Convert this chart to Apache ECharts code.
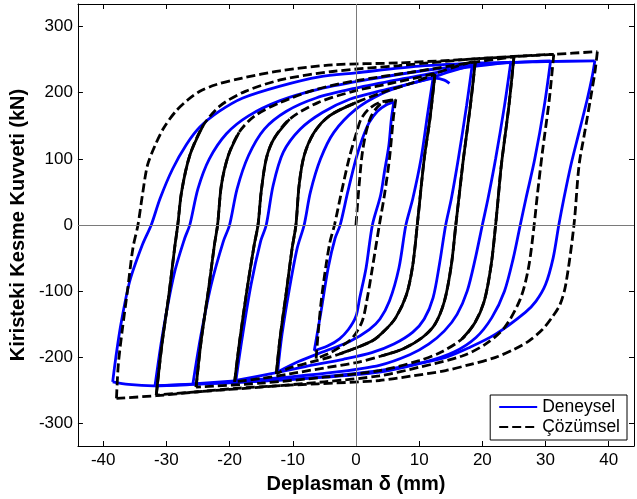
<!DOCTYPE html>
<html>
<head>
<meta charset="utf-8">
<script src="https://cdn.jsdelivr.net/npm/echarts@6/dist/echarts.min.js"></script>
<style>
  html, body { margin: 0; padding: 0; background: #fff; }
  #chart { width: 637px; height: 499px; }
</style>
</head>
<body>
<div id="chart"></div>
<script>
// axis ranges and tick labels
const xRange = [-44, 44];
const yRange = [-334, 334];
const xTickStep = 10;
const yTickStep = 100;

// Deneysel (experiment), one ascending and one descending branch per cycle amplitude
const blue6Up = [[-6.6,-190],[-5.6,-135],[-4.4,-65],[-3.3,-20],[-2.5,0],[-1.3,50],[0,100],[1.0,130],[2.1,155],[3.4,172],[4.7,181],[6.0,186]];
const blue6Down = [[6.0,186],[5.6,160],[5.2,120],[4.5,80],[3.9,45],[2.6,0],[1.6,-65],[0.6,-110],[0,-138],[-1.2,-158],[-2.6,-172],[-4.5,-183],[-6.6,-190]];
const blue12Up = [[-12.4,-222],[-11.7,-165],[-10.6,-100],[-9.3,-35],[-8.2,0],[-7.2,50],[-5.6,100],[-3.5,140],[0,175],[4,198],[8,212],[12.2,222]];
const blue12Down = [[12.2,222],[11.3,165],[10.3,100],[9.0,40],[7.9,0],[6.8,-65],[5.3,-115],[3.8,-142],[2.1,-158],[-1,-176],[-5.3,-192],[-9,-206],[-12.4,-222]];
const blueTail = [[10.5,222],[12.5,222],[14,219],[14.8,214]];
const blue19Up = [[-19.0,-235],[-18.0,-170],[-16.6,-90],[-15.1,-25],[-14.2,0],[-13.1,60],[-11.5,110],[-8.8,145],[-5.3,170],[-1,190],[4,203],[10,217],[15,232],[18.4,242]];
const blue19Down = [[18.4,242],[17.5,180],[16.2,100],[15.1,40],[14.2,0],[13.2,-60],[12.2,-110],[10.8,-142],[9,-162],[6,-180],[2.5,-193],[-2,-203],[-8,-214],[-13,-224],[-19.0,-235]];
const blue25Up = [[-25.8,-240],[-24.6,-170],[-22.9,-90],[-21.0,-25],[-20.0,0],[-18.8,55],[-17.0,105],[-14.5,145],[-11,172],[-6.3,192],[0,207],[8,222],[16,236],[24.5,246]];
const blue25Down = [[24.5,246],[23.5,180],[22.1,100],[20.9,40],[20.0,0],[18.9,-50],[17.6,-100],[16.0,-135],[14.0,-160],[11.5,-180],[8.5,-196],[3.7,-212],[-3,-222],[-10,-229],[-18,-235],[-25.8,-240]];
const blue31Up = [[-31.8,-243],[-30.6,-165],[-28.8,-75],[-27.1,-20],[-26.3,0],[-25.0,55],[-23.2,100],[-20.5,138],[-17,165],[-12,188],[-6,205],[2,220],[12,235],[22,244],[30.8,248]];
const blue31Down = [[30.8,248],[29.8,180],[28.3,100],[26.9,40],[26.0,0],[24.9,-50],[23.5,-100],[21.5,-140],[19,-170],[15.5,-192],[11,-207],[4,-222],[-5,-230],[-15,-236],[-25,-240],[-31.8,-243]];
const blue38Up = [[-38.5,-237],[-38.0,-200],[-37.2,-150],[-35.8,-85],[-33.8,-30],[-32.4,0],[-31,40],[-29,85],[-26.8,122],[-24.7,148],[-21.6,172],[-17.9,192],[-12,210],[-5.8,224],[0,230],[10,240],[20,245],[30,247],[37.8,248]];
const blue38Down = [[37.8,248],[37.4,225],[36.6,190],[35.3,140],[34.0,90],[32.9,40],[32.1,0],[31.2,-50],[30.0,-90],[28.5,-115],[26.8,-132],[22.1,-165],[18,-185],[14.2,-200],[8,-213],[3.7,-220],[-5,-229],[-15,-236],[-25.8,-241],[-32,-243],[-36,-241],[-38.5,-237]];

// Çözümsel (numerical)
const black38Up = [[-37.9,-262],[-37.6,-210],[-37.0,-160],[-36.1,-95],[-35.3,-35],[-34.5,0],[-33.8,45],[-33.0,90],[-31.8,120],[-30.4,147],[-28.5,172],[-26.5,190],[-24.7,202],[-22.2,212],[-18,222],[-12,233],[-3.7,242],[6.8,245],[15,249],[25.8,255],[31.3,258],[38.2,262]];
const black38Down = [[38.2,262],[37.8,230],[37.1,190],[36.2,140],[35.3,90],[34.5,0],[33.2,-90],[32.3,-120],[31,-140],[29.5,-158],[27.4,-175],[25,-188],[22.1,-200],[18,-211],[14.2,-220],[9,-228],[3.7,-235],[-6,-240],[-12.6,-243],[-19,-247],[-25,-252],[-31.6,-258],[-37.9,-262]];
const black0 = [[0,0],[0.5,60],[1.1,115],[2.2,160],[3.8,182],[6.3,190]];
const black6Up = [[-6.3,-202],[-6.0,-165],[-5.5,-115],[-4.8,-65],[-4.1,-25],[-3.4,0],[-2.4,45],[-1.1,100],[0.1,140],[0.8,160],[2.0,175],[3.7,185],[6.3,190]];
const black6Down = [[6.3,190],[5.9,160],[5.3,100],[4.5,45],[3.7,0],[2.6,-65],[1.8,-110],[1.0,-145],[-0.5,-170],[-2.6,-185],[-4.5,-195],[-6.3,-202]];
const black12Up = [[-12.6,-225],[-12.0,-170],[-11.0,-100],[-10.1,-35],[-9.5,0],[-9.0,60],[-8.2,105],[-6.6,140],[-4.2,165],[0,185],[4.7,202],[9,215],[12.5,228]];
const black12Down = [[12.5,228],[11.7,160],[10.8,100],[9.7,0],[9.0,-60],[8.0,-105],[6.3,-140],[4.5,-160],[2.6,-175],[-2.6,-195],[-7,-207],[-10.5,-216],[-12.6,-225]];
const black19Up = [[-19.2,-237],[-18.4,-175],[-17.2,-95],[-16.1,-30],[-15.5,0],[-15.0,50],[-14.2,100],[-13,130],[-10.5,160],[-6,185],[0,203],[6,215],[12,228],[16,240],[18.9,248]];
const black19Down = [[18.9,248],[18.1,180],[17.0,100],[16.4,50],[15.8,0],[15.1,-60],[14.0,-115],[12.5,-150],[10.5,-170],[7.5,-187],[4,-198],[0,-208],[-5,-216],[-10.5,-225],[-15,-232],[-19.2,-237]];
const black25Up = [[-25.3,-245],[-24.5,-175],[-23.3,-95],[-22.4,-30],[-21.9,0],[-21.3,60],[-20.2,105],[-18.5,140],[-16,165],[-12,185],[-6.3,205],[0,218],[9.5,232],[18,245],[25,254]];
const black25Down = [[25,254],[24.2,180],[23.0,90],[22.5,40],[22.1,0],[21.4,-60],[20.3,-115],[18.8,-148],[16.8,-172],[13.5,-192],[10,-205],[3.7,-220],[-5,-230],[-15,-239],[-25.3,-245]];
const black31Up = [[-31.6,-257],[-30.7,-180],[-29.6,-105],[-28.7,-35],[-28.2,0],[-27.6,50],[-26.3,105],[-24.2,150],[-21.5,180],[-17.5,202],[-11.6,220],[-3.7,232],[6.8,241],[20,252],[31.3,258]];
const black31Down = [[31.3,258],[30.6,190],[29.5,110],[28.7,45],[28.2,0],[27.3,-65],[26,-112],[23.5,-155],[20.5,-180],[16.8,-198],[10,-215],[3.7,-228],[-5,-237],[-15,-245],[-25,-252],[-31.6,-257]];

// where repeated cycles overlap, the dashed numerical line looks solid:
// number of leading points of each branch drawn solid
const solidLead = [
  [black12Up, 10], [black12Down, 10],
  [black19Up, 9], [black19Down, 11],
  [black25Up, 8], [black25Down, 9],
  [black31Up, 8]
];

const font = '"Liberation Sans", Arial, sans-serif';
const BLUE = '#0000ff';
const BLACK = '#000000';

const lineSeries = (name, data, color, dashed) => ({
  name: name,
  type: 'line',
  data: data,
  smooth: 0.3,
  symbol: 'none',
  showSymbol: false,
  silent: true,
  animation: false,
  emphasis: { disabled: true },
  lineStyle: { color: color, width: 2.8, type: dashed ? [9, 4] : 'solid', cap: 'butt' },
  itemStyle: { color: color }
});

const getOptionChart = () => {
  const series = [];
  // zero reference lines
  series.push({
    type: 'line',
    data: [],
    silent: true,
    animation: false,
    markLine: {
      silent: true,
      symbol: 'none',
      animation: false,
      label: { show: false },
      lineStyle: { color: '#7a7a7a', width: 1, type: 'solid' },
      emphasis: { disabled: true },
      data: [{ xAxis: 0 }, { yAxis: 0 }]
    }
  });
  [blue38Up, blue38Down, blue31Up, blue31Down, blue25Up, blue25Down, blue19Up, blue19Down,
   blue12Up, blue12Down, blueTail, blue6Up, blue6Down].forEach(d => {
    series.push(lineSeries('Deneysel', d, BLUE, false));
  });
  [black38Up, black38Down, black31Up, black31Down, black25Up, black25Down, black19Up, black19Down,
   black12Up, black12Down, black6Up, black6Down, black0].forEach(d => {
    series.push(lineSeries('Çözümsel', d, BLACK, true));
  });
  solidLead.forEach(([d, n]) => {
    series.push(lineSeries('Çözümsel', d.slice(0, n), BLACK, false));
  });

  const xCommon = {
    type: 'value', min: xRange[0], max: xRange[1], minInterval: xTickStep, maxInterval: xTickStep,
    axisLine: { show: true, onZero: false, lineStyle: { color: '#000', width: 1 } },
    axisTick: { show: true, inside: true, length: 5, lineStyle: { color: '#000', width: 1 } },
    splitLine: { show: false }
  };
  const yCommon = {
    type: 'value', min: yRange[0], max: yRange[1], minInterval: yTickStep, maxInterval: yTickStep,
    axisLine: { show: true, onZero: false, lineStyle: { color: '#000', width: 1 } },
    axisTick: { show: true, inside: true, length: 5, lineStyle: { color: '#000', width: 1 } },
    splitLine: { show: false }
  };

  return {
    backgroundColor: '#fff',
    animation: false,
    grid: { left: 76, right: 3, top: 4, bottom: 50, containLabel: false },
    legend: {
      data: ['Deneysel', 'Çözümsel'],
      orient: 'vertical',
      right: 10,
      bottom: 59,
      padding: [3, 7, 4, 8],
      itemGap: 2,
      itemWidth: 38,
      itemHeight: 14,
      borderColor: '#000',
      borderWidth: 1,
      borderRadius: 0,
      backgroundColor: '#fff',
      selectedMode: false,
      // line only, no marker on the legend icon
      itemStyle: { color: 'rgba(0,0,0,0)', borderColor: 'rgba(0,0,0,0)', borderWidth: 0 },
      textStyle: { fontSize: 17.5, color: '#000', fontFamily: font }
    },
    xAxis: [
      Object.assign({}, xCommon, {
        position: 'bottom',
        axisLabel: { showMinLabel: false, showMaxLabel: false, fontSize: 17, color: '#000', margin: 6, fontFamily: font },
        name: 'Deplasman δ (mm)',
        nameLocation: 'middle',
        nameGap: 28,
        nameTextStyle: { fontSize: 20, fontWeight: 'bold', color: '#000', fontFamily: font }
      }),
      Object.assign({}, xCommon, { position: 'top', axisLabel: { show: false } })
    ],
    yAxis: [
      Object.assign({}, yCommon, {
        position: 'left',
        axisLabel: { showMinLabel: false, showMaxLabel: false, fontSize: 17, color: '#000', margin: 5, fontFamily: font },
        name: 'Kiristeki Kesme Kuvveti (kN)',
        nameLocation: 'middle',
        nameGap: 47,
        nameTextStyle: { fontSize: 20, fontWeight: 'bold', color: '#000', fontFamily: font }
      }),
      Object.assign({}, yCommon, { position: 'right', axisLabel: { show: false } })
    ],
    series: series
  };
};

const initCharts = () => {
  const chart = echarts.init(document.getElementById('chart'), null, { renderer: 'canvas' });
  chart.setOption(getOptionChart());
};

window.addEventListener('load', () => {
  initCharts();
});
</script>
</body>
</html>
